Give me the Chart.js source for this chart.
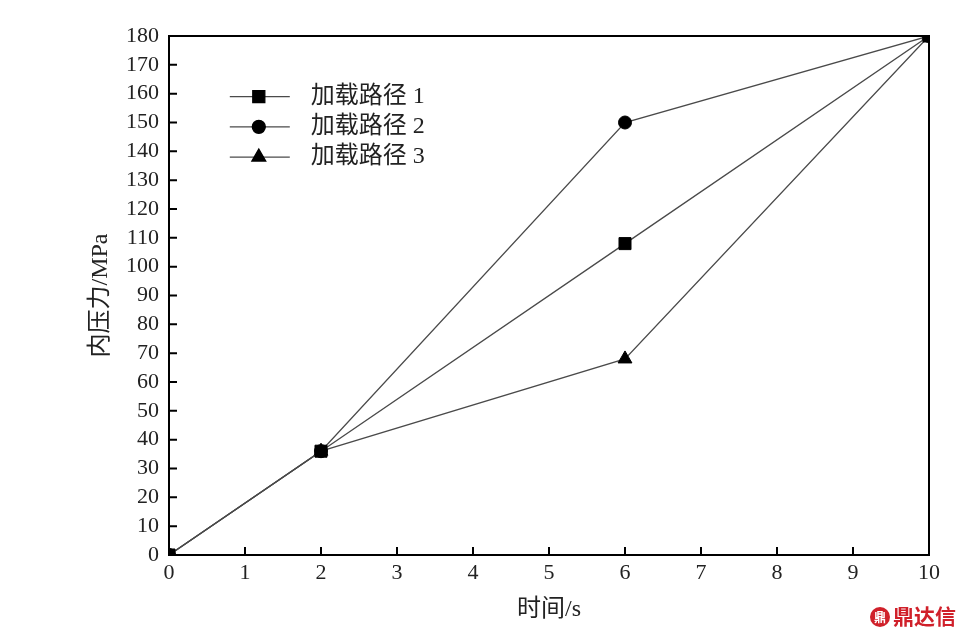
<!DOCTYPE html>
<html>
<head>
<meta charset="utf-8">
<script src="https://cdn.jsdelivr.net/npm/chart.js@4/dist/chart.umd.min.js"></script>
<style>
    html, body { margin: 0; padding: 0; background: #fff; }
    #wrap { position: relative; width: 970px; height: 640px; }
    #mark { position: absolute; right: 14px; bottom: 10px; color: #d0202a; font: bold 21px "Noto Sans CJK SC"; }
    #mark span { display: inline-block; width: 20px; height: 20px; border-radius: 50%; background: #d0202a; color: #fff;
        font-size: 12px; line-height: 20px; text-align: center; vertical-align: 2px; margin-right: 3px; }
</style>
</head>
<body>
<div id="wrap">
    <canvas id="chart" width="970" height="640"></canvas>
    <div id="mark"><span>鼎</span>鼎达信</div>
</div>
<script>
const times = [0, 2, 6, 10];
const path1 = [0, 36, 108, 180];
const path2 = [0, 36, 150, 180];
const path3 = [0, 36, 68, 180];
const seriesNames = ['加载路径 1', '加载路径 2', '加载路径 3'];
const legendRows = [159, 148.5, 138];
const xTitle = '时间/s';
const yTitle = '内压力/MPa';

const fontFamily = '"Liberation Serif", "Noto Sans CJK SC", serif';

function toPoints(values) {
    return times.map((t, i) => ({ x: t, y: values[i] }));
}

function makeDataset(label, values, style, r) {
    return {
        label: label,
        data: toPoints(values),
        borderColor: '#4a4a4a',
        borderWidth: 1.3,
        pointStyle: style,
        pointRadius: r,
        pointBackgroundColor: '#000',
        pointBorderColor: '#000',
        pointBorderWidth: 1,
        tension: 0
    };
}

// 坐标框 + 内向刻度 + 图例
const framePlugin = {
    id: 'frame',
    afterDraw(chart) {
        const ctx = chart.ctx;
        const a = chart.chartArea;
        const xs = chart.scales.x, ys = chart.scales.y;
        ctx.save();
        ctx.strokeStyle = '#000';
        ctx.lineWidth = 2;
        ctx.strokeRect(a.left, a.top, a.right - a.left, a.bottom - a.top);

        ctx.beginPath();
        xs.ticks.forEach(t => {
            const px = xs.getPixelForValue(t.value);
            ctx.moveTo(px, a.bottom);
            ctx.lineTo(px, a.bottom - 8);
        });
        ys.ticks.forEach(t => {
            const py = ys.getPixelForValue(t.value);
            ctx.moveTo(a.left, py);
            ctx.lineTo(a.left + 8, py);
        });
        ctx.stroke();

        // legend
        const lx = xs.getPixelForValue(0.8);
        chart.data.datasets.forEach((ds, i) => {
            const ly = ys.getPixelForValue(legendRows[i]);
            ctx.strokeStyle = '#4a4a4a';
            ctx.lineWidth = 1.3;
            ctx.beginPath();
            ctx.moveTo(lx, ly);
            ctx.lineTo(lx + 60, ly);
            ctx.stroke();
            ctx.fillStyle = '#000';
            ctx.strokeStyle = '#000';
            Chart.helpers.drawPoint(ctx, {
                pointStyle: ds.pointStyle,
                radius: ds.pointRadius,
                borderWidth: 1
            }, lx + 29, ly);
            ctx.fillStyle = '#222';
            ctx.font = '24px ' + fontFamily;
            ctx.textBaseline = 'middle';
            ctx.fillText(ds.label, lx + 81, ly);
        });
        ctx.restore();
    }
};

const ctx = document.getElementById('chart').getContext('2d');
Chart.defaults.font.family = fontFamily;
Chart.defaults.color = '#222';

new Chart(ctx, {
    type: 'line',
    data: {
        datasets: [
            makeDataset(seriesNames[0], path1, 'rect', 8.5),
            makeDataset(seriesNames[1], path2, 'circle', 6.5),
            makeDataset(seriesNames[2], path3, 'triangle', 8)
        ]
    },
    options: {
        responsive: false,
        animation: false,
        layout: { padding: { top: 36, right: 41, left: 86, bottom: 16 } },
        plugins: {
            legend: { display: false },
            tooltip: { enabled: false }
        },
        scales: {
            x: {
                type: 'linear',
                min: 0,
                max: 10,
                afterFit: s => { s.height = 69; },
                grid: { display: false, drawTicks: false },
                border: { display: false },
                ticks: { stepSize: 1, padding: 5, autoSkip: false, maxRotation: 0, font: { size: 22 }, color: '#222' },
                title: { display: true, text: xTitle, font: { size: 24 }, color: '#222', padding: 0 }
            },
            y: {
                min: 0,
                max: 180,
                afterFit: s => { s.width = 83; },
                grid: { display: false, drawTicks: false },
                border: { display: false },
                ticks: { stepSize: 10, padding: 10, autoSkip: false, font: { size: 22 }, color: '#222' },
                title: { display: true, text: yTitle, font: { size: 24 }, color: '#222', padding: 0 }
            }
        }
    },
    plugins: [framePlugin]
});
</script>
</body>
</html>
